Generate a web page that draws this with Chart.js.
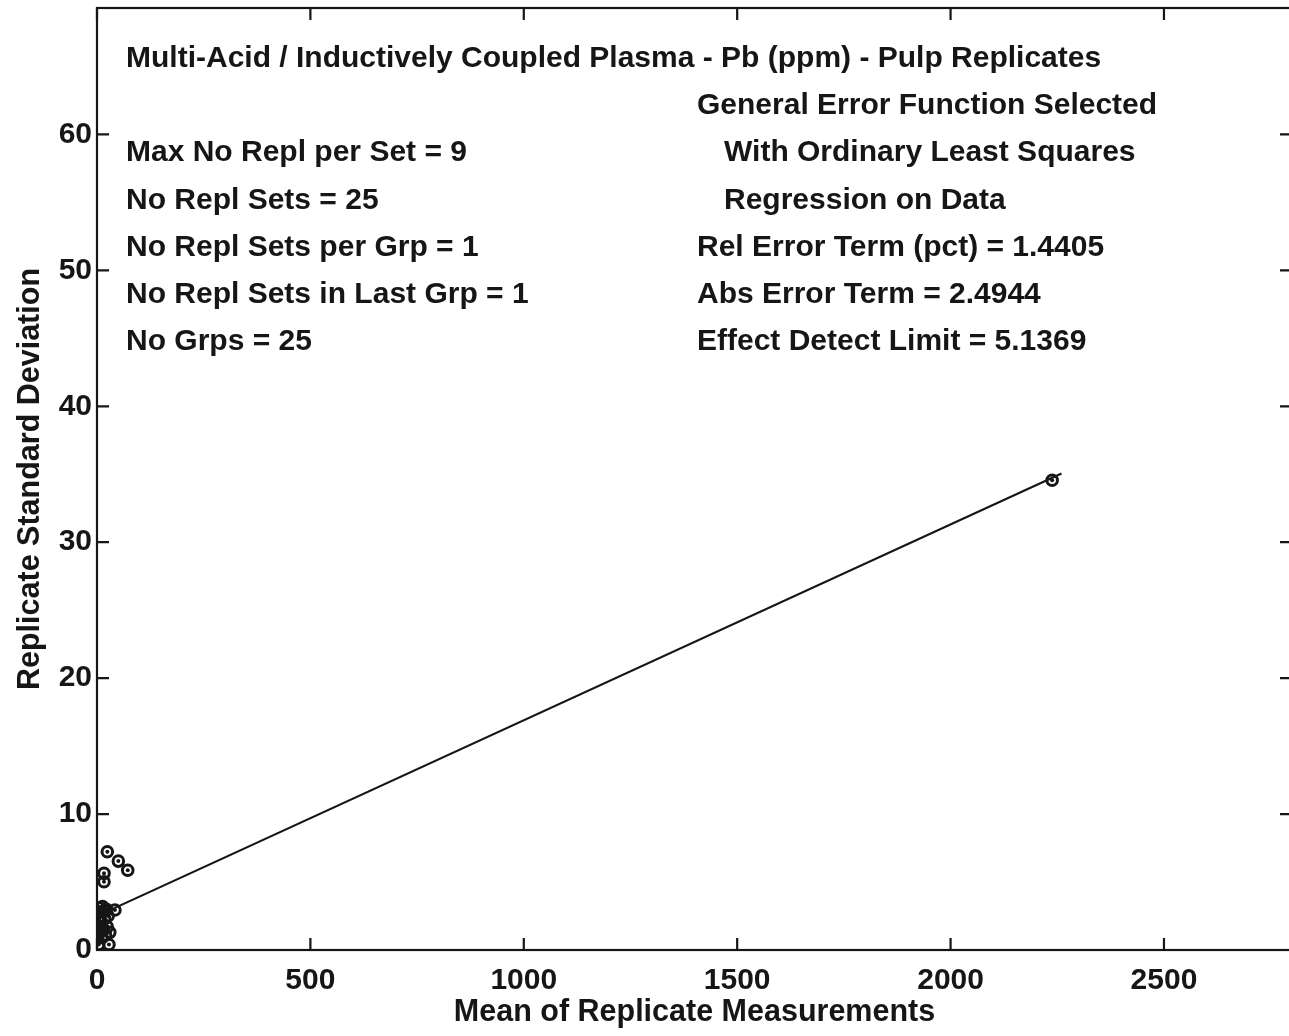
<!DOCTYPE html>
<html>
<head>
<meta charset="utf-8">
<script src="https://cdn.jsdelivr.net/npm/chart.js@4"></script>
<style>
  html, body { margin: 0; padding: 0; background: #ffffff; overflow: hidden; }
  canvas { display: block; }
</style>
</head>
<body>
<canvas id="c" width="1292" height="1036"></canvas>
<script>
// Replicate set means (ppm) and standard deviations
const replMeans = [4, 28, 2, 12, 20, 6, 16, 24, 3, 10, 18, 26, 8, 16, 5, 13, 22, 30,
                   42, 16.4, 16.4, 24.2, 50, 72, 2238];
const replSDs   = [0.4, 0.4, 1.0, 0.9, 1.1, 1.6, 1.5, 1.7, 2.2, 2.1, 2.3, 2.5, 2.8, 2.9, 3.1, 3.2, 3.0, 1.3,
                   2.94, 5.64, 5.02, 7.23, 6.54, 5.87, 34.56];

// Error model terms
const relErrorPct = 1.4405;
const absErrorTerm = 2.4944;
const fitRange = [0, 2260];

const xTicks = [0, 500, 1000, 1500, 2000, 2500];
const yTicks = [0, 10, 20, 30, 40, 50, 60];

const titleLine = 'Multi-Acid / Inductively Coupled Plasma - Pb (ppm) - Pulp Replicates';
const leftNotes = [
  'Max No Repl per Set = 9',
  'No Repl Sets = 25',
  'No Repl Sets per Grp = 1',
  'No Repl Sets in Last Grp = 1',
  'No Grps = 25'
];
const rightNotes = [
  ['General Error Function Selected', 0],
  ['With Ordinary Least Squares', 1],
  ['Regression on Data', 1],
  ['Rel Error Term (pct) = 1.4405', 0],
  ['Abs Error Term = 2.4944', 0],
  ['Effect Detect Limit = 5.1369', 0]
];

const FONT = '"Liberation Sans", Arial, Helvetica, sans-serif';
const INK = '#161616';

const points = replMeans.map((m, i) => ({ x: m, y: replSDs[i] }));
const fitLine = fitRange.map(x => ({ x, y: absErrorTerm + relErrorPct / 100 * x }));

// Frame, inward ticks on all four sides, and the text block
const framePlugin = {
  id: 'frame',
  afterDraw(chart) {
    const { ctx, chartArea: a, scales: { x, y } } = chart;
    ctx.save();
    ctx.strokeStyle = INK;
    ctx.lineWidth = 2.2;
    ctx.strokeRect(a.left, a.top, a.right - a.left, a.bottom - a.top);
    const t = 12;
    ctx.beginPath();
    xTicks.forEach(v => {
      const px = x.getPixelForValue(v);
      ctx.moveTo(px, a.bottom); ctx.lineTo(px, a.bottom - t);
      ctx.moveTo(px, a.top); ctx.lineTo(px, a.top + t);
    });
    yTicks.forEach(v => {
      const py = y.getPixelForValue(v);
      ctx.moveTo(a.left, py); ctx.lineTo(a.left + t, py);
      ctx.moveTo(a.right, py); ctx.lineTo(a.right - t, py);
    });
    ctx.stroke();

    ctx.fillStyle = INK;
    ctx.font = 'bold 30px ' + FONT;
    ctx.textBaseline = 'alphabetic';
    ctx.textAlign = 'left';
    const lx = a.left + 29, rx = a.left + 600, indent = 27;
    const base = a.top + 59, step = 47.2;
    ctx.fillText(titleLine, lx, base);
    leftNotes.forEach((s, i) => ctx.fillText(s, lx, base + step * (i + 2)));
    rightNotes.forEach(([s, ind], i) => ctx.fillText(s, rx + ind * indent, base + step * (i + 1)));
    ctx.restore();
  }
};

new Chart(document.getElementById('c'), {
  type: 'scatter',
  data: {
    datasets: [
      {
        type: 'line',
        data: fitLine,
        borderColor: INK,
        borderWidth: 2.2,
        pointRadius: 0,
        fill: false
      },
      {
        data: points,
        pointStyle: 'circle',
        pointRadius: 5.3,
        borderColor: INK,
        borderWidth: 3,
        backgroundColor: 'rgba(255,255,255,0)'
      },
      {
        data: points,
        pointStyle: 'circle',
        pointRadius: 2,
        borderWidth: 0,
        backgroundColor: INK
      }
    ]
  },
  options: {
    responsive: false,
    animation: false,
    events: [],
    layout: { autoPadding: false, padding: { top: 8, right: 0, left: 0, bottom: 0 } },
    plugins: { legend: { display: false }, tooltip: { enabled: false } },
    scales: {
      x: {
        type: 'linear',
        min: 0,
        max: 2800,
        afterBuildTicks(s) { s.ticks = xTicks.map(v => ({ value: v })); },
        afterFit(s) { s.height = 86; s.paddingLeft = 0; s.paddingRight = 0; },
        grid: { display: false, drawTicks: false },
        border: { display: false },
        ticks: { color: INK, font: { family: FONT, size: 30, weight: 'bold' }, padding: 13, maxRotation: 0,
                 callback: v => String(v) },
        title: { display: true, text: 'Mean of Replicate Measurements', color: INK,
                 font: { family: FONT, size: 30.5, weight: 'bold' }, padding: { top: 0, bottom: 5 } }
      },
      y: {
        type: 'linear',
        min: 0,
        max: 69.3,
        afterBuildTicks(s) { s.ticks = yTicks.map(v => ({ value: v })); },
        afterFit(s) { s.width = 97; s.paddingTop = 0; s.paddingBottom = 0; },
        grid: { display: false, drawTicks: false },
        border: { display: false },
        ticks: { color: INK, font: { family: FONT, size: 30, weight: 'bold' }, padding: 5,
                 callback: v => String(v) },
        title: { display: true, text: 'Replicate Standard Deviation', color: INK,
                 font: { family: FONT, size: 30.5, weight: 'bold' }, padding: { top: 12, bottom: 0 } }
      }
    }
  },
  plugins: [framePlugin]
});
</script>
</body>
</html>
